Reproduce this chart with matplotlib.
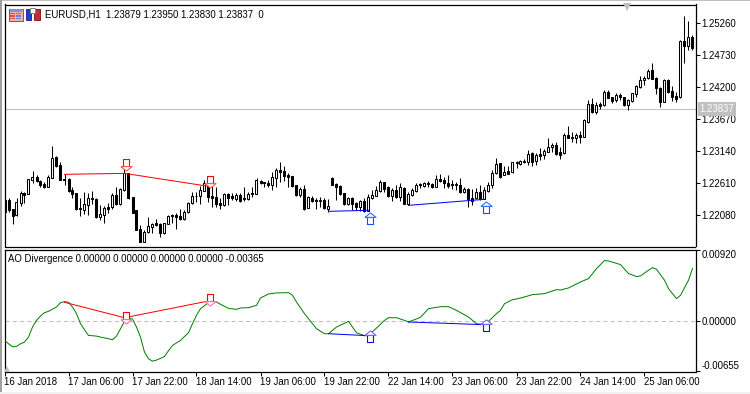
import numpy as np
import matplotlib
matplotlib.use('Agg')
import matplotlib.pyplot as plt
from matplotlib.path import Path
from matplotlib.patches import Rectangle
from matplotlib.transforms import blended_transform_factory

## Data
highs = [
1.22357,1.22357,1.22180,1.22357,1.22478,1.22467,1.22683,1.22804,1.22744,1.22661,
1.22633,1.22744,1.23225,1.23059,1.22965,1.22755,1.22688,1.22550,1.22439,1.22357,
1.22467,1.22439,1.22478,1.22357,1.22246,1.22229,1.22285,1.22439,1.22550,1.22522,
1.22882,1.22782,1.22373,1.22163,1.21914,1.21831,1.22041,1.21942,1.22014,1.21942,
1.21953,1.22080,1.22091,1.22108,1.22180,1.22163,1.22301,1.22462,1.22467,1.22561,
1.22661,1.22633,1.22561,1.22550,1.22357,1.22450,1.22450,1.22439,1.22439,1.22450,
1.22550,1.22467,1.22550,1.22688,1.22661,1.22627,1.22661,1.22799,1.22854,1.22954,
1.22893,1.22782,1.22733,1.22578,1.22539,1.22578,1.22395,1.22395,1.22357,1.22384,
1.22357,1.22345,1.22716,1.22605,1.22578,1.22450,1.22384,1.22384,1.22301,1.22329,
1.22357,1.22428,1.22495,1.22561,1.22661,1.22633,1.22561,1.22522,1.22578,1.22605,
1.22550,1.22467,1.22522,1.22605,1.22616,1.22633,1.22644,1.22605,1.22744,1.22755,
1.22716,1.22744,1.22661,1.22633,1.22688,1.22550,1.22522,1.22506,1.22522,1.22578,
1.22550,1.22633,1.22827,1.23020,1.22948,1.22899,1.22893,1.22965,1.22981,1.22992,
1.23003,1.23158,1.23131,1.23103,1.23186,1.23169,1.23363,1.23269,1.23286,1.23214,
1.23435,1.23557,1.23463,1.23435,1.23479,1.23667,1.23988,1.24016,1.23960,1.23949,
1.24154,1.24154,1.24043,1.24099,1.24099,1.24043,1.24010,1.24110,1.24237,1.24386,
1.24386,1.24497,1.24608,1.24364,1.24198,1.24331,1.24331,1.24220,1.24126,1.24984,
1.25381,1.25299,1.25067]
body_tops = [
1.22329,1.22329,1.22180,1.22290,1.22439,1.22439,1.22672,1.22705,1.22710,1.22644,
1.22594,1.22705,1.23020,1.23037,1.22910,1.22672,1.22677,1.22489,1.22439,1.22191,
1.22263,1.22357,1.22357,1.22351,1.22091,1.22191,1.22207,1.22412,1.22412,1.22511,
1.22771,1.22771,1.22373,1.22163,1.21853,1.21798,1.21897,1.21925,1.21942,1.21931,
1.21942,1.22063,1.22074,1.22086,1.22063,1.22135,1.22285,1.22395,1.22401,1.22495,
1.22616,1.22605,1.22395,1.22373,1.22279,1.22428,1.22423,1.22401,1.22412,1.22417,
1.22362,1.22434,1.22439,1.22661,1.22650,1.22622,1.22605,1.22705,1.22827,1.22827,
1.22810,1.22744,1.22721,1.22572,1.22511,1.22506,1.22384,1.22368,1.22329,1.22334,
1.22334,1.22224,1.22699,1.22589,1.22561,1.22439,1.22357,1.22362,1.22279,1.22312,
1.22312,1.22373,1.22406,1.22495,1.22622,1.22622,1.22545,1.22495,1.22495,1.22545,
1.22528,1.22428,1.22495,1.22578,1.22589,1.22611,1.22611,1.22589,1.22672,1.22672,
1.22661,1.22605,1.22600,1.22589,1.22572,1.22506,1.22511,1.22362,1.22462,1.22456,
1.22495,1.22578,1.22782,1.22921,1.22937,1.22788,1.22810,1.22954,1.22965,1.22976,
1.22976,1.23092,1.23103,1.23075,1.23086,1.23147,1.23203,1.23241,1.23241,1.23120,
1.23413,1.23402,1.23369,1.23402,1.23407,1.23656,1.23916,1.23916,1.23899,1.23916,
1.24121,1.24121,1.24043,1.24071,1.24071,1.24032,1.23988,1.24099,1.24220,1.24320,
1.24348,1.24475,1.24480,1.24348,1.24187,1.24320,1.24315,1.24143,1.24054,1.24962,
1.24962,1.25028,1.25028]
body_bots = [
1.22135,1.22163,1.22069,1.22080,1.22285,1.22417,1.22423,1.22666,1.22644,1.22583,
1.22550,1.22550,1.22699,1.22899,1.22666,1.22661,1.22478,1.22434,1.22185,1.22174,
1.22163,1.22252,1.22340,1.22041,1.22052,1.22086,1.22180,1.22207,1.22263,1.22263,
1.22495,1.22357,1.22119,1.21837,1.21638,1.21638,1.21792,1.21886,1.21914,1.21787,
1.21776,1.21936,1.22063,1.22052,1.22019,1.22008,1.22130,1.22274,1.22390,1.22390,
1.22484,1.22384,1.22368,1.22268,1.22252,1.22246,1.22368,1.22368,1.22345,1.22318,
1.22340,1.22351,1.22423,1.22428,1.22605,1.22605,1.22583,1.22578,1.22694,1.22799,
1.22727,1.22716,1.22561,1.22412,1.22417,1.22180,1.22202,1.22312,1.22318,1.22318,
1.22196,1.22185,1.22583,1.22550,1.22428,1.22263,1.22263,1.22263,1.22218,1.22207,
1.22152,1.22152,1.22368,1.22401,1.22484,1.22511,1.22401,1.22395,1.22373,1.22379,
1.22268,1.22268,1.22417,1.22484,1.22572,1.22567,1.22589,1.22545,1.22550,1.22650,
1.22605,1.22556,1.22578,1.22572,1.22462,1.22456,1.22340,1.22318,1.22362,1.22345,
1.22345,1.22484,1.22572,1.22771,1.22705,1.22749,1.22766,1.22793,1.22937,1.22921,
1.22965,1.22954,1.22965,1.22976,1.23064,1.23075,1.23131,1.23203,1.23086,1.23075,
1.23103,1.23358,1.23352,1.23352,1.23369,1.23380,1.23618,1.23794,1.23789,1.23894,
1.23905,1.24027,1.23977,1.23988,1.24032,1.23905,1.23905,1.23977,1.24093,1.24209,
1.24320,1.24348,1.24342,1.24182,1.23960,1.23960,1.24126,1.24032,1.23999,1.24032,
1.24890,1.24885,1.24857]
lows = [
1.22108,1.22135,1.21931,1.22063,1.22229,1.22274,1.22423,1.22616,1.22627,1.22550,
1.22522,1.22539,1.22699,1.22882,1.22666,1.22578,1.22467,1.22357,1.22163,1.22069,
1.22097,1.22080,1.22263,1.22025,1.21997,1.21942,1.22108,1.22174,1.22252,1.22252,
1.22484,1.22345,1.22108,1.21831,1.21638,1.21638,1.21776,1.21776,1.21897,1.21721,
1.21765,1.21931,1.21942,1.21848,1.21997,1.21997,1.22119,1.22263,1.22301,1.22263,
1.22478,1.22301,1.22218,1.22207,1.22180,1.22235,1.22246,1.22329,1.22318,1.22301,
1.22312,1.22329,1.22384,1.22423,1.22589,1.22539,1.22550,1.22495,1.22550,1.22633,
1.22650,1.22550,1.22550,1.22401,1.22384,1.22163,1.22191,1.22301,1.22180,1.22218,
1.22180,1.22135,1.22578,1.22329,1.22412,1.22252,1.22252,1.22163,1.22163,1.22152,
1.22135,1.22146,1.22345,1.22395,1.22467,1.22467,1.22384,1.22318,1.22357,1.22318,
1.22257,1.22246,1.22401,1.22467,1.22522,1.22550,1.22550,1.22534,1.22539,1.22633,
1.22534,1.22522,1.22511,1.22495,1.22439,1.22439,1.22218,1.22246,1.22351,1.22329,
1.22340,1.22467,1.22522,1.22760,1.22694,1.22738,1.22760,1.22782,1.22854,1.22910,
1.22948,1.22910,1.22899,1.22910,1.22992,1.23003,1.23120,1.23131,1.23075,1.23003,
1.23092,1.23352,1.23297,1.23269,1.23280,1.23369,1.23601,1.23767,1.23756,1.23839,
1.23894,1.24016,1.23933,1.23949,1.23988,1.23888,1.23822,1.23960,1.24043,1.24182,
1.24237,1.24337,1.24331,1.24082,1.23877,1.23949,1.24099,1.23977,1.23960,1.24016,
1.24608,1.24818,1.24818]
# W = hollow bar, B = filled bar
bar_kind = ("BBBWWBWWBB" "BWWBBBBBBB" "WWBBWWBWBW" "WBBBBWWWBB" "WWBBBWWWBW"
            "WBBBBWBBWB" "BWBWBBBWWB" "BBBBWBWBBB" "BWBBBBWBBW" "BWWWWBBWBW"
            "BWWWBWBBWB" "BBBBBWBBWB" "WWWWBWBWWW" "BWBWBWWWBB" "WBBWBWWBWB"
            "WBBWBBWWWW" "WWBBBWBBBW" "BWB")

ao_idx = [0,1,2,3,4,5,6,7,8,9,10,11,13,14,15,16,17,18,19,20,21,23,24,26,27,28,29,30,31,32,33,34,35,36,37,38,40,41,42,44,46,47,48,49,51,52,53,54,56,58,59,61,
          63,64,66,68,71,72,73,75,78,80,81,83,86,88,90,91,93,95,96,98,100,101,104,106,109,111,113,116,118,120,121,123,124,
          125,127,128,130,132,135,138,139,141,144,146,148,150,151,154,156,158,159,161,162,163,165,166,168,169,171,172]
ao_val = [-0.00257,-0.00301,-0.00340,-0.00336,-0.00301,-0.00279,-0.00214,-0.00083,0.00004,0.00061,0.00105,0.00122,0.00179,0.00235,0.00249,0.00240,0.00179,0.00092,-0.00039,-0.00118,-0.00192,-0.00201,-0.00214,-0.00235,-0.00249,-0.00201,-0.00105,-0.00009,0.00031,0.00022,-0.00083,-0.00214,-0.00410,-0.00497,-0.00528,-0.00514,-0.00467,-0.00392,-0.00323,-0.00257,-0.00157,-0.00039,0.00070,0.00157,0.00235,0.00257,0.00244,0.00214,0.00161,0.00148,0.00166,0.00170,
          0.00201,0.00296,0.00349,0.00362,0.00366,0.00331,0.00244,0.00092,-0.00105,-0.00170,-0.00170,-0.00083,-0.00009,-0.00157,-0.00196,-0.00192,-0.00096,0.00004,0.00039,0.00039,0.00004,-0.00017,0.00044,0.00157,0.00183,0.00183,0.00135,0.00048,-0.00039,-0.00052,-0.00009,0.00092,0.00135,
          0.00222,0.00275,0.00283,0.00310,0.00340,0.00353,0.00405,0.00401,0.00427,0.00506,0.00549,0.00680,0.00785,0.00780,0.00732,0.00615,0.00576,0.00584,0.00658,0.00693,0.00671,0.00528,0.00419,0.00288,0.00331,0.00528,0.00680]

# divergence lines, (bar, value) pairs
red_price_idx = [15, 30, 51]
red_price_val = [1.22755, 1.22771, 1.22556]
red_ao_idx = [15, 30, 51]
red_ao_val = [0.00240, 0.00039, 0.00257]
blue_price = [([81, 91], [1.22141, 1.22157]), ([101, 120], [1.22240, 1.22340])]
blue_ao = [([81, 91], [-0.00170, -0.00196]), ([101, 120], [-0.00017, -0.00052])]

# arrows
down_idx = [30, 51]
down_price = [1.22915, 1.22622]
down_ao = [0.00039, 0.00270]
up_idx = [91, 120]
up_price = [1.22025, 1.22213]
up_ao = [-0.00196, -0.00052]

price_ticks = [1.25260, 1.24730, 1.24200, 1.23670, 1.23140, 1.22610, 1.22080]
ao_ticks = [0.00920, 0.0, -0.00655]
time_labels = ['16 Jan 2018', '17 Jan 06:00', '17 Jan 22:00', '18 Jan 14:00', '19 Jan 06:00', '19 Jan 22:00',
               '22 Jan 14:00', '23 Jan 06:00', '23 Jan 22:00', '24 Jan 14:00', '25 Jan 06:00']
last_price = 1.23837

## Plotting
plt.rcParams['font.family'] = ['Liberation Sans', 'DejaVu Sans']
FS = 6.9
W, H = 750, 394
fig = plt.figure(figsize=(W / 100, H / 100), dpi=100)

def axes_px(x0, y0, x1, y1):
    return fig.add_axes([x0 / W, 1 - y1 / H, (x1 - x0) / W, (y1 - y0) / H])

def fig_rect(x0, y0, x1, y1, fc, ec='none'):
    fig.add_artist(Rectangle((x0 / W, 1 - y1 / H), (x1 - x0) / W, (y1 - y0) / H, transform=fig.transFigure,
                             facecolor=fc, edgecolor=ec, linewidth=0.7))

ax = axes_px(4.5, 4.5, 695.5, 246.5)
ax2 = axes_px(4.5, 249.5, 695.5, 371.5)

x = np.arange(len(highs))
highs, lows = np.array(highs), np.array(lows)
body_tops, body_bots = np.array(body_tops), np.array(body_bots)
colors = ['white' if k == 'W' else 'black' for k in bar_kind]

ax.vlines(x, lows, highs, color='black', linewidth=0.75, zorder=2)
ax.bar(x, body_tops - body_bots, bottom=body_bots, width=0.5, color=colors, edgecolor='black', linewidth=0.75, zorder=3)

ax.axhline(last_price, color='#c0c0c0', linewidth=0.75, zorder=1)
ax2.axhline(0, color='#c0c0c0', linewidth=0.75, linestyle=(0, (4, 3)), zorder=1)

LW = 0.72
ax.plot(red_price_idx, red_price_val, color='#ff0000', linewidth=LW, zorder=4)
ax2.plot(ao_idx, ao_val, color='#008000', linewidth=LW, zorder=3)
ax2.plot(red_ao_idx, red_ao_val, color='#ff0000', linewidth=LW, zorder=4)
for xs, ys in blue_price:
    ax.plot(xs, ys, color='#0000ff', linewidth=LW, zorder=4)
for xs, ys in blue_ao:
    ax2.plot(xs, ys, color='#0000ff', linewidth=LW, zorder=4)

# hollow arrows, stem and head drawn apart because the head is paler
stem_dn = Path([(-0.5, 1), (0.5, 1), (0.5, -0.2), (-0.5, -0.2), (-0.5, 1)])
head_dn = Path([(-1, -0.2), (1, -0.2), (0, -1), (-1, -0.2)])
stem_up = Path([(-0.5, -1), (0.5, -1), (0.5, 0.2), (-0.5, 0.2), (-0.5, -1)])
head_up = Path([(-1, 0.2), (1, 0.2), (0, 1), (-1, 0.2)])

def arrows(a, xs, ys, stem, head, c_stem, c_head):
    xs = np.array(xs) + 0.35
    a.plot(xs, ys, ls='none', marker=stem, ms=8, mfc='white', mec=c_stem, mew=0.8, zorder=5)
    a.plot(xs, ys, ls='none', marker=head, ms=8, mfc='white', mec=c_head, mew=0.8, zorder=5)

arrows(ax, down_idx, down_price, stem_dn, head_dn, '#ff0000', '#ff5a40')
arrows(ax2, down_idx, down_ao, stem_dn, head_dn, '#ff0000', '#ff70a0')
arrows(ax, up_idx, up_price, stem_up, head_up, '#1050ff', '#3070ff')
arrows(ax2, up_idx, up_ao, stem_up, head_up, '#1010e0', '#8060ff')

# axes
ax.set_xlim(0, 172.75)
ax2.set_xlim(0, 172.75)
ax.set_ylim(1.21557, 1.25574)
ax2.set_ylim(-0.00663, 0.00929)

ax.set_xticks([])
ax.yaxis.tick_right()
ax.set_yticks(price_ticks)
ax.set_yticklabels(['%.5f' % p for p in price_ticks])
ax2.yaxis.tick_right()
ax2.set_yticks(ao_ticks)
ax2.set_yticklabels(['%.5f' % p for p in ao_ticks])
ax2.get_yticklabels()[0].set_verticalalignment('top')
ax2.get_yticklabels()[2].set_verticalalignment('bottom')
ax2.set_xticks(np.arange(len(time_labels)) * 16)
ax2.set_xticklabels(time_labels, ha='left')
for a in (ax, ax2):
    a.tick_params(axis='y', length=2.9, width=0.75, pad=1.5, labelsize=FS)
    a.tick_params(axis='x', length=2.9, width=0.75, pad=1.0, labelsize=FS)
    for s in a.spines.values():
        s.set_linewidth(0.9)

# current price tag
tr = blended_transform_factory(ax.transAxes, ax.transData)
ax.text(1.0061, last_price, '%.5f' % last_price, transform=tr, color='white', fontsize=FS, va='center', ha='left',
        bbox=dict(facecolor='#c0c0c0', edgecolor='none', pad=1.3), clip_on=False, zorder=6)

# header text
fig.text(45 / W, 1 - 14.5 / H, 'EURUSD,H1  1.23879 1.23950 1.23830 1.23837  0', fontsize=FS, va='center', ha='left')
fig.text(8 / W, 1 - 258.5 / H, 'AO Divergence 0.00000 0.00000 0.00000 0.00000 -0.00365', fontsize=FS, va='center', ha='left')

# little grey chart-shift marks
ax.plot([0.9004], [0.99], marker='v', ms=6, mew=0, color='#c0c0c0', transform=ax.transAxes, clip_on=False, zorder=6)
ax2.plot([0.004], [0.02], marker='^', ms=4.5, mew=0, color='#c0c0c0', transform=ax2.transAxes, zorder=6)

# toolbar icons
fig_rect(8.5, 8.5, 22.5, 20.5, '#f4b0a0', '#606080')
fig_rect(9.5, 9.5, 21.5, 11.5, '#8090e0')
for yy in (13, 15.5, 18):
    fig_rect(10, yy, 15, yy + 1.2, '#e05040')
    fig_rect(16, yy, 21, yy + 1.2, '#6080e0')
fig_rect(25.5, 9, 31, 20, '#2040d0', '#2030a0')
fig_rect(33.5, 9, 39.5, 20, '#c03030', '#902020')
fig_rect(30, 8.5, 35, 12.5, 'white', '#808080')

# window edges
fig_rect(0, 0, 750, 1, '#c0c0c0')
fig_rect(0, 0, 1.5, 394, '#a0a0a0')
fig_rect(0, 391.5, 750, 394, '#f0f0f0')

fig.savefig('out.png', dpi=100)
